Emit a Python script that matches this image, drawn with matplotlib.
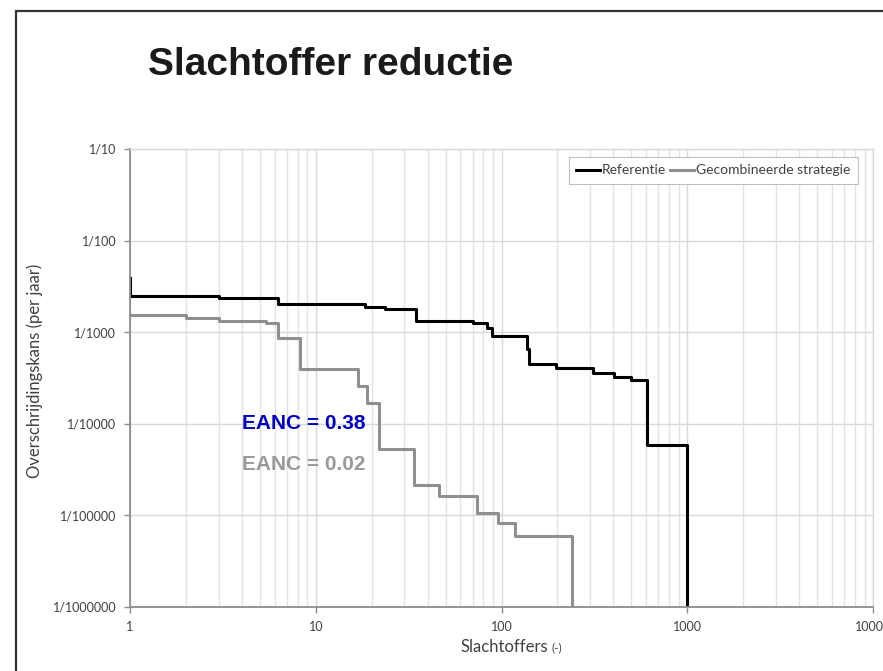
import matplotlib
matplotlib.use('Agg')
import matplotlib.pyplot as plt
from matplotlib.patches import Rectangle
from matplotlib.ticker import FixedLocator, FixedFormatter, LogLocator, NullFormatter

# Gegevens: stapfuncties, waarde geldt vanaf x
ref_x = [1, 1, 3, 6.25, 18.3, 23.5, 34.5, 70, 84, 89, 138, 141, 197, 310, 405, 498, 604, 1000]
ref_y = [3.9e-3, 2.5e-3, 2.38e-3, 2.03e-3, 1.9e-3, 1.79e-3, 1.34e-3, 1.25e-3, 1.1e-3, 9.1e-4,
         6.5e-4, 4.5e-4, 4.1e-4, 3.56e-4, 3.27e-4, 3.0e-4, 5.9e-5, 1e-6]

comb_x = [1, 2, 3, 5.4, 6.25, 8.2, 16.9, 18.9, 21.8, 34, 46, 73.7, 95.5, 117.5, 240]
comb_y = [1.54e-3, 1.42e-3, 1.33e-3, 1.26e-3, 8.6e-4, 3.96e-4, 2.59e-4, 1.67e-4, 5.25e-5,
          2.15e-5, 1.64e-5, 1.05e-5, 8.3e-6, 5.96e-6, 1e-6]

y_ticks = [1e-1, 1e-2, 1e-3, 1e-4, 1e-5, 1e-6]
y_labels = ['1/10', '1/100', '1/1000', '1/10000', '1/100000', '1/1000000']
x_ticks = [1, 10, 100, 1000, 10000]
x_labels = ['1', '10', '100', '1000', '10000']

small_font = ['Lato', 'DejaVu Sans']
bold_font = ['Liberation Sans', 'DejaVu Sans']

fig = plt.figure(figsize=(8.83, 6.71), dpi=100)
ax = fig.add_axes([130 / 883, 1 - 607 / 671, 743 / 883, 458 / 671])

ax.plot(ref_x, ref_y, drawstyle='steps-post', color='black', lw=2.2, label='Referentie')
ax.plot(comb_x, comb_y, drawstyle='steps-post', color='#8f8f8f', lw=2.2,
        label='Gecombineerde strategie')

ax.set_xscale('log')
ax.set_yscale('log')
ax.set_xlim(1, 10000)
ax.set_ylim(1e-6, 1e-1)

ax.yaxis.set_major_locator(FixedLocator(y_ticks))
ax.yaxis.set_major_formatter(FixedFormatter(y_labels))
ax.yaxis.set_minor_locator(FixedLocator([]))
ax.xaxis.set_major_locator(FixedLocator(x_ticks))
ax.xaxis.set_major_formatter(FixedFormatter(x_labels))
ax.xaxis.set_minor_locator(LogLocator(base=10, subs=range(2, 10)))
ax.xaxis.set_minor_formatter(NullFormatter())

ax.grid(True, which='major', color='#d9d9d9', lw=1)
ax.grid(True, which='minor', axis='x', color='#e3e3e3', lw=1)
ax.set_axisbelow(True)

for side in ['top', 'right']:
    ax.spines[side].set_color('#d9d9d9')
    ax.spines[side].set_linewidth(1)
for side in ['left', 'bottom']:
    ax.spines[side].set_color('#8c8c8c')
    ax.spines[side].set_linewidth(1.3)

ax.tick_params(which='major', length=4, width=1, color='#8c8c8c', labelsize=9,
               labelcolor='#404040', pad=6)
ax.tick_params(which='minor', length=0)
for lbl in ax.get_xticklabels() + ax.get_yticklabels():
    lbl.set_family(small_font)

# Aslabels
fig.text(35 / 883, 1 - 371 / 671, 'Overschrijdingskans (per jaar)', rotation=90,
         ha='center', va='center', fontsize=12, color='#404040', family=small_font)
fig.text(548 / 883, 1 - 647 / 671, 'Slachtoffers', ha='right', va='center',
         fontsize=12, color='#404040', family=small_font)
fig.text(551 / 883, 1 - 648 / 671, '(-)', ha='left', va='center',
         fontsize=8.5, color='#404040', family=small_font)

# EANC-teksten
ax.text(4.0, 8.8e-5, 'EANC = 0.38', color='#0000cc', fontsize=15, fontweight='bold',
        family=bold_font, ha='left', va='baseline')
ax.text(4.0, 3.1e-5, 'EANC = 0.02', color='#999999', fontsize=15, fontweight='bold',
        family=bold_font, ha='left', va='baseline')

leg = ax.legend(loc='upper right', bbox_to_anchor=(0.98, 0.983), borderaxespad=0,
                ncol=2, handlelength=1.7, handletextpad=0.15,
                columnspacing=0.3, fancybox=False, framealpha=1, borderpad=0.55,
                prop={'family': small_font, 'size': 10})
leg.get_frame().set_edgecolor('#bfbfbf')
leg.get_frame().set_linewidth(0.8)
for t in leg.get_texts():
    t.set_color('#404040')

# Titel
fig.text(148 / 883, 1 - 75 / 671, 'Slachtoffer reductie', fontsize=28, fontweight='bold',
         family=bold_font, color='#1a1a1a', ha='left', va='baseline')

# Dia-kader
fig.add_artist(Rectangle((16 / 883, -0.2), 2.0, 1.2 - 11 / 671, transform=fig.transFigure,
                         fill=False, edgecolor='#333333', lw=1.6))

fig.savefig('out.png', dpi=100)
